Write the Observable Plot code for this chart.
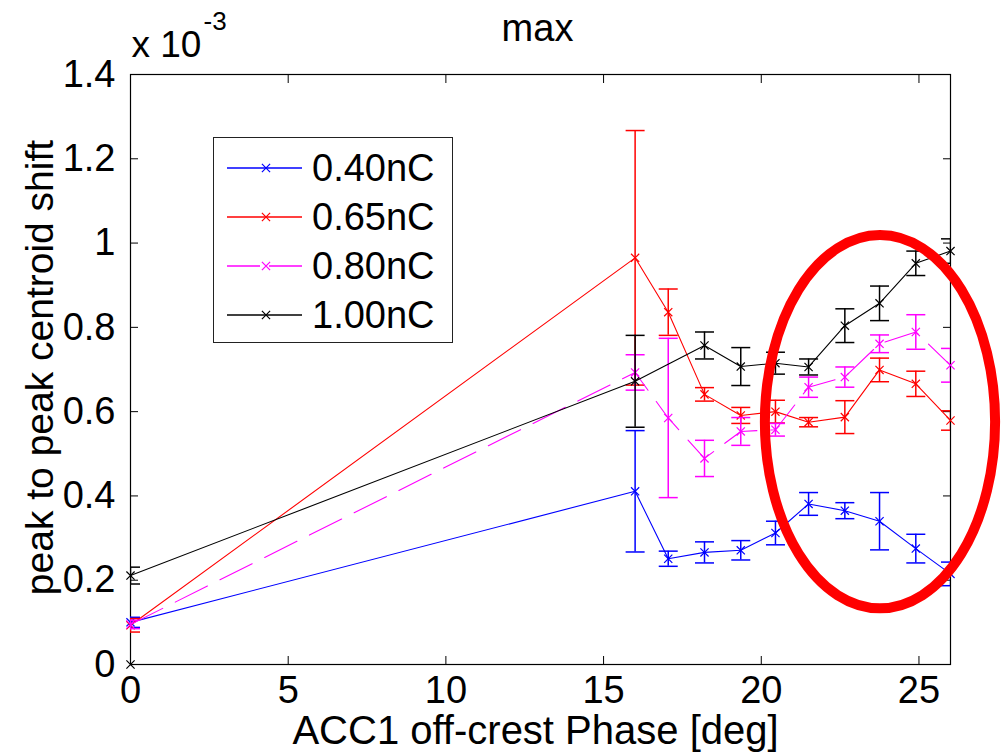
<!DOCTYPE html>
<html>
<head>
<meta charset="utf-8">
<script src="https://cdn.jsdelivr.net/npm/d3@7"></script>
<script src="https://cdn.jsdelivr.net/npm/@observablehq/plot@0.6"></script>
<style>
  html, body { margin: 0; padding: 0; background: #fff; }
  #wrap { position: relative; width: 1002px; height: 755px; font-family: "Liberation Sans", Arial, sans-serif; }
  #legend { position: absolute; left: 213px; top: 137px; width: 240px; height: 206px; border: 1.3px solid #222; background: #fff; box-sizing: border-box; }
  .row { position: absolute; left: 0; height: 40px; width: 240px; }
  .row svg { position: absolute; left: 0; top: 0; }
  .row span { position: absolute; left: 98px; top: 0; line-height: 40px; font-size: 38px; color: #000; }
</style>
</head>
<body>
<div id="wrap">
  <div id="chart"></div>
  <div id="legend"></div>
</div>
<script>
// ---- data (values in units of 1e-3) ----
const phase = [0, 16.0, 17.05, 18.2, 19.35, 20.45, 21.5, 22.65, 23.75, 24.9, 26.0];

const shift040 = [0.100, 0.411, 0.251, 0.266, 0.271, 0.312, 0.381, 0.365, 0.340, 0.275, 0.215];
const err040   = [0.012, 0.144, 0.018, 0.025, 0.023, 0.028, 0.027, 0.019, 0.068, 0.034, 0.028];

const shift065 = [0.093, 0.965, 0.836, 0.641, 0.591, 0.600, 0.575, 0.587, 0.699, 0.666, 0.579];
const err065   = [0.016, 0.302, 0.055, 0.016, 0.019, 0.027, 0.011, 0.039, 0.028, 0.030, 0.023];

const shift080 = [0.095, 0.693, 0.585, 0.489, 0.553, 0.557, 0.658, 0.682, 0.761, 0.789, 0.710];
const err080   = [0.010, 0.042, 0.189, 0.043, 0.033, 0.015, 0.024, 0.024, 0.021, 0.041, 0.040];

const shift100 = [0.211, 0.672, null, 0.757, 0.707, 0.715, 0.706, 0.804, 0.857, 0.952, 0.981];
const err100   = [0.020, 0.109, null, 0.032, 0.045, 0.026, 0.019, 0.040, 0.041, 0.029, 0.029];

const seriesNames = ["0.40nC", "0.65nC", "0.80nC", "1.00nC"];
const seriesColors = ["#0000ff", "#ff0000", "#ff00ff", "#000000"];
const seriesDash = [null, null, "36,14", null];

const originMarker = [{x: 0, y: 0}];

const xTicks = [0, 5, 10, 15, 20, 25];
const yTicks = [0, 0.2, 0.4, 0.6, 0.8, 1, 1.2, 1.4];
const yTickLabels = ["0", "0.2", "0.4", "0.6", "0.8", "1", "1.2", "1.4"];

const titleText = ["max"];
const multiplierText = ["x 10"];
const exponentText = ["-3"];
const xLabel = ["ACC1 off-crest Phase [deg]"];
const yLabel = ["peak to peak centroid shift"];

// highlight ellipse (data coordinates)
const ellipseCenter = [23.78, 0.575];
const ellipseRadii = [3.65, 0.443];

// ---- build table ----
const values = [shift040, shift065, shift080, shift100];
const errors = [err040, err065, err080, err100];
const rows = [];
seriesNames.forEach((name, s) => {
  phase.forEach((p, i) => {
    const v = values[s][i];
    if (v == null) return;
    rows.push({series: name, x: p, y: v, err: errors[s][i]});
  });
});

const capSymbol = {
  draw(context, size) {
    const w = Math.sqrt(size / Math.PI);
    context.moveTo(-w, 0);
    context.lineTo(w, 0);
  }
};

const marks = [];
seriesNames.forEach((name, s) => {
  const d = rows.filter(r => r.series === name);
  const color = seriesColors[s];
  marks.push(Plot.line(d, {x: "x", y: "y", stroke: color, strokeWidth: 1.1, strokeDasharray: seriesDash[s] || undefined}));
  marks.push(Plot.ruleX(d, {x: "x", y1: r => r.y - r.err, y2: r => r.y + r.err, stroke: color, strokeWidth: 1.5, clip: true}));
  marks.push(Plot.dot(d, {x: "x", y: r => r.y + r.err, symbol: capSymbol, r: 9.5, stroke: color, fill: "none", strokeWidth: 1.5, clip: true}));
  marks.push(Plot.dot(d, {x: "x", y: r => r.y - r.err, symbol: capSymbol, r: 9.5, stroke: color, fill: "none", strokeWidth: 1.5, clip: true}));
  marks.push(Plot.dot(d, {x: "x", y: "y", symbol: "times", r: 3.8, stroke: color, strokeWidth: 1.2}));
});

const ellipseMark = (index, scales) => {
  const cx = scales.x(ellipseCenter[0]);
  const cy = scales.y(ellipseCenter[1]);
  const rx = Math.abs(scales.x(ellipseCenter[0] + ellipseRadii[0]) - cx);
  const ry = Math.abs(scales.y(ellipseCenter[1] + ellipseRadii[1]) - cy);
  const e = document.createElementNS("http://www.w3.org/2000/svg", "ellipse");
  e.setAttribute("cx", cx); e.setAttribute("cy", cy);
  e.setAttribute("rx", rx); e.setAttribute("ry", ry);
  e.setAttribute("fill", "none"); e.setAttribute("stroke", "#ff0000");
  e.setAttribute("stroke-width", 10);
  return e;
};

const chart = Plot.plot({
  width: 1002,
  height: 755,
  marginLeft: 130,
  marginRight: 52,
  marginTop: 74,
  marginBottom: 91,
  style: {fontFamily: "'Liberation Sans', Arial, sans-serif", fontSize: "38px", color: "#000", background: "#fff", overflow: "visible"},
  x: {domain: [0, 26]},
  y: {domain: [0, 1.4]},
  marks: [
    Plot.frame({stroke: "#000", strokeWidth: 1.2}),
    Plot.axisX(xTicks, {anchor: "bottom", tickSize: -8, tickPadding: 20, fontSize: 38, label: null, tickFormat: d => String(d)}),
    Plot.axisX(xTicks, {anchor: "top", tickSize: -8, tickFormat: () => "", label: null}),
    Plot.axisY(yTicks, {anchor: "left", tickSize: -8, tickPadding: 23, fontSize: 38, label: null, tickFormat: d => yTickLabels[yTicks.indexOf(d)]}),
    Plot.axisY(yTicks, {anchor: "right", tickSize: -8, tickFormat: () => "", label: null}),
    ...marks,
    Plot.dot(originMarker, {x: "x", y: "y", symbol: "times", r: 3.8, stroke: "#000", strokeWidth: 1.2}),
    ellipseMark,
    Plot.text(titleText, {frameAnchor: "top", dx: -3, dy: -46, fontSize: 38, lineAnchor: "middle"}),
    Plot.text(multiplierText, {frameAnchor: "top-left", dx: 1, dy: -29, fontSize: 37, textAnchor: "start", lineAnchor: "middle"}),
    Plot.text(exponentText, {frameAnchor: "top-left", dx: 73, dy: -53, fontSize: 26, textAnchor: "start", lineAnchor: "middle"}),
    Plot.text(xLabel, {frameAnchor: "bottom", dx: -5, dy: 67, fontSize: 40, textAnchor: "middle", lineAnchor: "middle"}),
    Plot.text(yLabel, {frameAnchor: "left", dx: -90, dy: -2, fontSize: 39, rotate: -90, textAnchor: "middle", lineAnchor: "middle"})
  ]
});
document.getElementById("chart").appendChild(chart);

// ---- legend ----
const legend = document.getElementById("legend");
const rowTops = [10, 59, 108, 157];
seriesNames.forEach((name, s) => {
  const row = document.createElement("div");
  row.className = "row";
  row.style.top = rowTops[s] + "px";
  const svg = d3.create("svg").attr("width", 95).attr("height", 40);
  svg.append("line").attr("x1", 13).attr("x2", 88).attr("y1", 20).attr("y2", 20)
    .attr("stroke", seriesColors[s]).attr("stroke-width", 1.4)
    .attr("stroke-dasharray", seriesDash[s] ? "33,9" : null);
  svg.append("path").attr("transform", "translate(52,20)")
    .attr("d", d3.symbol(d3.symbolTimes, 3.8 * 3.8 * Math.PI)())
    .attr("stroke", seriesColors[s]).attr("fill", "none").attr("stroke-width", 1.2);
  row.appendChild(svg.node());
  const span = document.createElement("span");
  span.textContent = name;
  row.appendChild(span);
  legend.appendChild(row);
});
</script>
</body>
</html>
